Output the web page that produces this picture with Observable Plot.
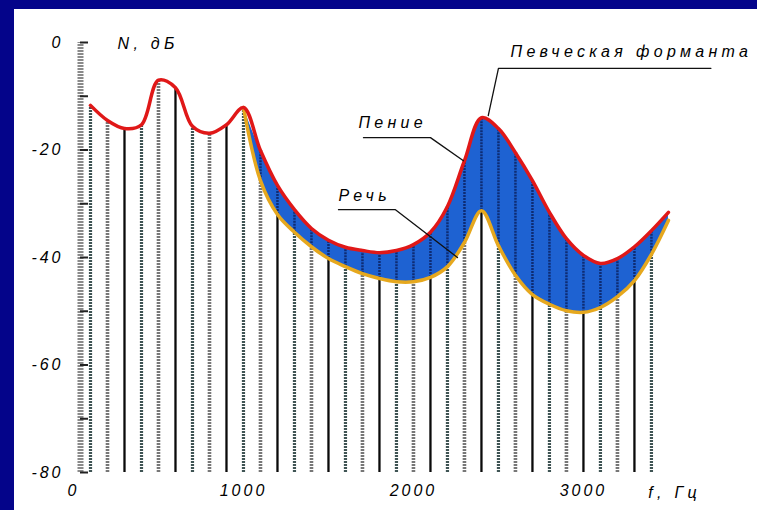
<!DOCTYPE html>
<html><head><meta charset="utf-8">
<script src="https://cdn.jsdelivr.net/npm/d3@7"></script>
<script src="https://cdn.jsdelivr.net/npm/@observablehq/plot@0.6"></script>
<style>
html,body{margin:0;padding:0;background:#fff;width:757px;height:510px;overflow:hidden;}
#frameTop{position:absolute;left:0;top:0;width:757px;height:9px;background:#04048a;z-index:2}
#frameLeft{position:absolute;left:0;top:0;width:14px;height:510px;background:#04048a;z-index:2}
#chart{position:absolute;left:0;top:0;}
#chart svg text{font-style:italic;letter-spacing:4.3px;}
#chart svg g[aria-label="x-axis tick label"] text,
#chart svg g[aria-label="y-axis tick label"] text{letter-spacing:3px;}
</style></head>
<body>
<div id="frameTop"></div><div id="frameLeft"></div>
<div id="chart"></div>
<script>
// Envelope frequencies (Hz) and levels (dB)
const freqs = [100,200,300,400,500,600,700,800,900,1000,1100,1200,1300,1400,1500,1600,1700,1800,1900,2000,2100,2200,2300,2400,2500,2600,2700,2800,2900,3000,3100,3200,3300,3400,3500];
const singing = [-11.7,-14.5,-16.0,-15.3,-7.0,-8.4,-15.6,-16.9,-15.3,-12.1,-20.1,-26.6,-31.1,-34.6,-36.8,-38.1,-38.7,-39.1,-38.7,-37.6,-35.3,-30.5,-22.0,-14.0,-16.0,-20.5,-25.7,-31.6,-36.5,-39.6,-41.1,-40.2,-38.0,-35.0,-31.6];
const speechFreqs = [1000,1100,1200,1300,1400,1500,1600,1700,1800,1900,2000,2100,2200,2300,2400,2500,2600,2700,2800,2900,3000,3100,3200,3300,3400,3500];
const speech = [-12.1,-25.7,-32.0,-35.3,-38.0,-40.2,-41.7,-43.0,-43.9,-44.5,-44.5,-43.7,-41.7,-37.2,-31.3,-37.8,-43.3,-46.9,-48.7,-49.9,-50.2,-49.3,-47.3,-44.3,-39.4,-33.1];
const lastHarmonic = 3400;

// Axis ticks
const xTickValues = [0,1000,2000,3000];
const yTickValues = [0,-20,-40,-60,-80];
const yMinorTicks = [0,-10,-20,-30,-40,-50,-60,-70,-80];
const yAxisLabel = "N, дБ";
const xAxisLabel = "f, Гц";

// Annotations (in data units)
const annotationTexts = ["Певческая форманта","Пение","Речь"];
const annotationF = [2571,1676,1559];
const annotationDb = [-1.7,-14.9,-28.5];
// Leader lines: underline start, underline end, target point on curve
const leaderF = [[3750,2500,2440],[1706,2100,2294],[1559,1894,2259]];
const leaderDb = [[-4.8,-4.8,-13.6],[-17.7,-17.7,-22.0],[-31.1,-31.1,-40.0]];

const envelope = freqs.map((f,i)=>({f, level: singing[i]}));
const band = speechFreqs.map((f,i)=>({f, speech: speech[i], sing: singing[freqs.indexOf(f)]}));
const harmonics = envelope.filter(d => d.f <= lastHarmonic).map((d,i)=>({...d, i}));
const bandHarmonics = band.filter(d => d.f > speechFreqs[0] && d.f <= lastHarmonic);
const annotations = annotationTexts.map((t,i)=>({t, f: annotationF[i], db: annotationDb[i]}));
const leaders = leaderF.flatMap((fs,k)=>fs.map((f,j)=>({k, f, db: leaderDb[k][j]})));

const xMax = 4024;
const plot = Plot.plot({
  width: 757, height: 510,
  marginLeft: 73, marginRight: 0, marginTop: 42, marginBottom: 38,
  x: {domain: [0, xMax]},
  y: {domain: [-80, 0]},
  style: {fontFamily: "'Liberation Sans', Arial, sans-serif", fontSize: "16px", background: "transparent", overflow: "visible"},
  marks: [
    // axis bar and ticks
    Plot.ruleX([0], {y1: -80, y2: 0, dx: 7, stroke: "#8a8a8a", strokeWidth: 6, strokeDasharray: "2,1"}),
    Plot.ruleY(yMinorTicks, {x1: 0, x2: 47, dx: 7, stroke: "#222", strokeWidth: 2}),
    // harmonics
    Plot.ruleX(harmonics.filter(d=>d.i%3===0), {x: "f", y1: -80, y2: "level", stroke: "#3f5454", strokeWidth: 3.2, strokeDasharray: "2,1"}),
    Plot.ruleX(harmonics.filter(d=>d.i%3===1), {x: "f", y1: -80, y2: "level", stroke: "#777", strokeWidth: 3.6, strokeDasharray: "2,1"}),
    Plot.ruleX(harmonics.filter(d=>d.i%3===2), {x: "f", y1: -80, y2: "level", stroke: "#0a0a0a", strokeWidth: 2.3}),
    // band between speech and singing
    Plot.areaY(band, {x: "f", y1: "speech", y2: "sing", curve: "catmull-rom", fill: "#1e62d2"}),
    Plot.ruleX(bandHarmonics, {x: "f", y1: "speech", y2: "sing", stroke: "#0a1f5c", strokeWidth: 2.5, strokeOpacity: 0.8, strokeDasharray: "2,1"}),
    Plot.line(band, {x: "f", y: "speech", curve: "catmull-rom", stroke: "#e6a81e", strokeWidth: 3.5}),
    Plot.line(envelope, {x: "f", y: "level", curve: "catmull-rom", stroke: "#e01818", strokeWidth: 3.5}),
    // axes
    Plot.axisY({anchor: "left", ticks: yTickValues, tickSize: 0, tickPadding: 10, tickFormat: d => String(d), label: null}),
    Plot.axisX({anchor: "bottom", ticks: xTickValues, tickSize: 0, tickPadding: 12, tickFormat: d => String(d), label: null}),
    Plot.text([yAxisLabel], {x: 259, y: -0.2, text: d => d, textAnchor: "start"}),
    Plot.text([xAxisLabel], {x: 3382, y: -83.7, text: d => d, textAnchor: "start"}),
    // annotations
    Plot.line(leaders, {x: "f", y: "db", z: "k", stroke: "#111", strokeWidth: 1.3}),
    Plot.text(annotations, {x: "f", y: "db", text: "t", textAnchor: "start"})
  ]
});
document.getElementById("chart").appendChild(plot);
</script>
</body></html>
